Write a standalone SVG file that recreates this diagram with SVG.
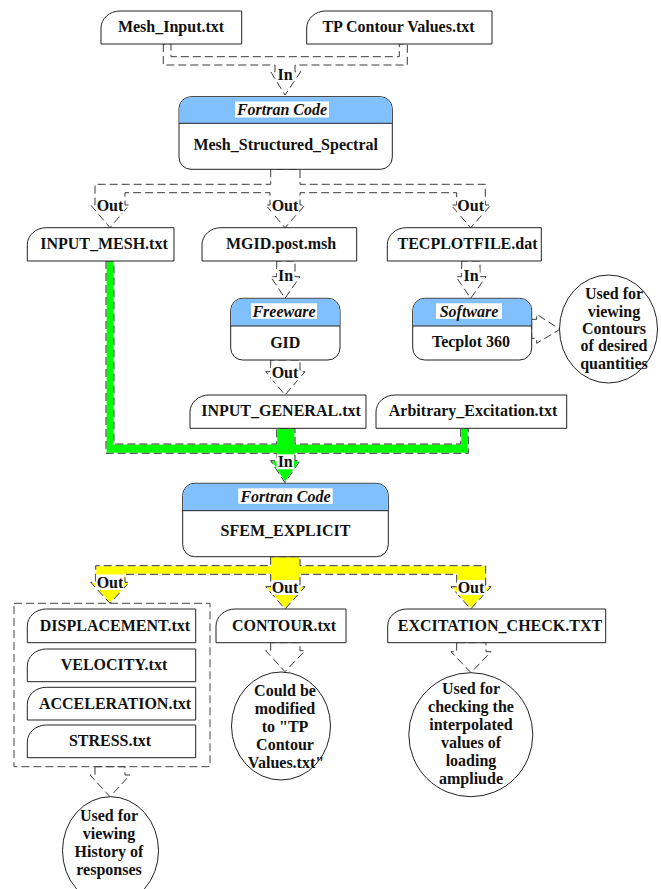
<svg xmlns="http://www.w3.org/2000/svg" xmlns:xlink="http://www.w3.org/1999/xlink" width="661" height="889" viewBox="0 0 661 889">
<style>
.box{fill:#fff;stroke:#222;stroke-width:1}
.hdr{fill:#80C0FF;stroke:none}
.t{font-family:"Liberation Serif","Times New Roman",serif;font-weight:bold;font-size:16px;fill:#111;text-anchor:middle}
.it{font-style:italic}
.conn{fill:#fff;stroke:#3a3a3a;stroke-width:1;stroke-dasharray:8 4;stroke-linejoin:miter}
.under{stroke:#fff;stroke-width:1.2}
.dash{fill:none;stroke:#333;stroke-width:1;stroke-dasharray:8 4}
.g{fill:#00FF00}
.y{fill:#FFFF00}
.bg{fill:#fff}
.cont{fill:none;stroke:#444;stroke-width:1;stroke-dasharray:8 4}
</style>
<defs>
<path id="greenPath" d="M106 261 V453.3 H276.7 V460.7 H270.7 L285 482.7 L300 460.7 H295 V453.3 H468.3 V428.3 H460.7 V444 H295 V428.3 H276.7 V444 H114 V261 Z"/>
<path id="yellowPath" d="M270.7 556.7 V565.7 H95.7 V582.3 H90.7 L110 603.3 L129.3 582.3 H125 V574.3 H270.7 V586.7 H265.7 L285 609 L305 586.7 H300 V574.3 H456.7 V586.7 H451 L470.7 609 L491 586.7 H485.7 V565.7 H300 V556.7 Z"/>
</defs>

<g id="connectors">
  <path class="conn" d="M163.3 44 V65 H275 V71.7 H270.7 L285 95 L300.7 71.7 H295 V65 H407.3 V44 H399.3 V56.7 H171 V44 Z"/>
  <path class="conn" d="M270.7 169.3 V184.3 H95 V205 H90.7 L110 227.7 L129.3 205 H125 V192.7 H270 V205 H265.7 L285 227.7 L305 205 H300 V192.7 H456.7 V205 H451 L470.7 227.7 L491 205 H485.3 V184.3 H300 V169.3 Z"/>
  <path class="conn" d="M276.7 261 V276.7 H270.7 L285 298.3 L300 276.7 H295 V261 Z"/>
  <path class="conn" d="M461.7 261 V276.7 H456 L470.7 298.3 L486 276.7 H480 V261 Z"/>
  <path class="conn" d="M531.7 319.3 H536.7 V314.3 L560 329.3 L536.7 343.3 V338.3 H531.7 Z"/>
  <path class="conn" d="M270.7 360 V371.7 H265.7 L285 395 L305 371.7 H300 V360 Z"/>
  <use xlink:href="#greenPath" class="g under"/>
  <use xlink:href="#greenPath" class="dash"/>
  <use xlink:href="#yellowPath" class="y under"/>
  <use xlink:href="#yellowPath" class="dash"/>
  <path class="conn" d="M270.7 642.7 V650.7 H265.7 L285 671.7 L305 650.7 H300 V642.7 Z"/>
  <path class="conn" d="M456.7 642.7 V651.7 H451 L471 672.7 L491 651.7 H486 V642.7 Z"/>
  <path class="conn" d="M95 766.7 V775 H90 L110 796.7 L130 775 H125 V766.7 Z"/>

  <rect class="bg" x="276.5" y="67" width="17" height="15"/>
  <text class="t" x="285" y="79.5">In</text>
  <rect class="bg" x="96" y="198" width="28" height="15"/>
  <text class="t" x="110" y="211">Out</text>
  <rect class="bg" x="271" y="198" width="28" height="15"/>
  <text class="t" x="285" y="211">Out</text>
  <rect class="bg" x="457" y="198" width="28" height="15"/>
  <text class="t" x="470.7" y="211">Out</text>
  <rect class="bg" x="277" y="268" width="17" height="15"/>
  <text class="t" x="285.5" y="280.5">In</text>
  <rect class="bg" x="462.5" y="268" width="17" height="15"/>
  <text class="t" x="471" y="280.5">In</text>
  <rect class="bg" x="271" y="365.5" width="28" height="15"/>
  <text class="t" x="285" y="378">Out</text>
  <rect class="bg" x="276.5" y="454.3" width="17.5" height="15"/>
  <text class="t" x="285.2" y="466.7">In</text>
  <rect class="bg" x="96" y="574.5" width="28" height="15.5"/>
  <text class="t" x="110" y="588">Out</text>
  <rect class="bg" x="271.5" y="580" width="27.5" height="15"/>
  <text class="t" x="285" y="593">Out</text>
  <rect class="bg" x="457" y="580" width="28" height="15"/>
  <text class="t" x="471" y="593">Out</text>
</g>

<g id="mesh_input">
  <path class="box" d="M101 44 V28 A19 17 0 0 1 120 11 H241.7 V44 Z"/>
  <text class="t" x="171" y="32">Mesh_Input.txt</text>
</g>
<g id="tp_contour">
  <path class="box" d="M306.7 44 V28 A19 17 0 0 1 325.7 11 H492 V44 Z"/>
  <text class="t" x="398.5" y="32">TP Contour Values.txt</text>
</g>

<g id="mesh_structured">
  <rect class="box" x="179" y="96.7" width="213.3" height="72.6" rx="12"/>
  <path class="hdr" d="M179.5 123.3 V108.7 A11.5 11.5 0 0 1 191 97.2 H380.3 A11.5 11.5 0 0 1 391.8 108.7 V123.3 Z"/>
  <path d="M179 123.3 H392.3" stroke="#222" stroke-width="1"/>
  <rect class="bg" x="235" y="101.5" width="94" height="16"/>
  <text class="t it" x="282" y="115">Fortran Code</text>
  <text class="t" x="285.7" y="149.5">Mesh_Structured_Spectral</text>
</g>

<g id="input_mesh">
  <path class="box" d="M27.3 261 V244.7 A19 17 0 0 1 46.3 227.7 H174 V261 Z"/>
  <text class="t" x="104" y="248.5">INPUT_MESH.txt</text>
</g>
<g id="mgid">
  <path class="box" d="M202 261 V244.7 A19 17 0 0 1 221 227.7 H356.7 V261 Z"/>
  <text class="t" x="281" y="248.5">MGID.post.msh</text>
</g>
<g id="tecplotfile">
  <path class="box" d="M387.3 261 V244.7 A19 17 0 0 1 406.3 227.7 H541.3 V261 Z"/>
  <text class="t" x="467.5" y="248.5">TECPLOTFILE.dat</text>
</g>

<g id="gid">
  <rect class="box" x="230.7" y="298.3" width="109.3" height="61.7" rx="12"/>
  <path class="hdr" d="M231.2 326 V310.3 A11.5 11.5 0 0 1 242.7 298.8 H328 A11.5 11.5 0 0 1 339.5 310.3 V326 Z"/>
  <path d="M230.7 326 H340" stroke="#222" stroke-width="1"/>
  <rect class="bg" x="251" y="303.3" width="66" height="15.5"/>
  <text class="t it" x="284" y="316.5">Freeware</text>
  <text class="t" x="285.3" y="347.5">GID</text>
</g>

<g id="tecplot360">
  <rect class="box" x="412.7" y="298.3" width="119" height="61.7" rx="12"/>
  <path class="hdr" d="M413.2 326 V310.3 A11.5 11.5 0 0 1 424.7 298.8 H519.7 A11.5 11.5 0 0 1 531.2 310.3 V326 Z"/>
  <path d="M412.7 326 H531.7" stroke="#222" stroke-width="1"/>
  <rect class="bg" x="436" y="303.3" width="66" height="15.5"/>
  <text class="t it" x="469" y="316.5">Software</text>
  <text class="t" x="471" y="347">Tecplot 360</text>
</g>

<g id="contours_note">
  <ellipse class="box" cx="608.5" cy="329" rx="49" ry="54"/>
  <text class="t" x="614" y="299">Used for<tspan x="614" y="316.5">viewing</tspan><tspan x="614" y="334">Contours</tspan><tspan x="614" y="351">of desired</tspan><tspan x="614" y="368.5">quantities</tspan></text>
</g>

<g id="input_general">
  <path class="box" d="M190 428.3 V412 A19 17 0 0 1 209 395 H366 V428.3 Z"/>
  <text class="t" x="281" y="416">INPUT_GENERAL.txt</text>
</g>
<g id="arbitrary_excitation">
  <path class="box" d="M376 428.3 V412 A19 17 0 0 1 395 395 H566.7 V428.3 Z"/>
  <text class="t" x="473" y="416">Arbitrary_Excitation.txt</text>
</g>

<g id="sfem_explicit">
  <rect class="box" x="182.7" y="483.3" width="205.6" height="73.4" rx="12"/>
  <path class="hdr" d="M183.2 510.7 V495.3 A11.5 11.5 0 0 1 194.7 483.8 H376.3 A11.5 11.5 0 0 1 387.8 495.3 V510.7 Z"/>
  <path d="M182.7 510.7 H388.3" stroke="#222" stroke-width="1"/>
  <rect class="bg" x="238.3" y="488.3" width="94.4" height="15.5"/>
  <text class="t it" x="285.5" y="501.5">Fortran Code</text>
  <text class="t" x="285.5" y="536">SFEM_EXPLICIT</text>
</g>

<g id="history_group">
  <rect class="cont" x="14" y="603.3" width="196" height="163.4"/>
  <g id="displacement">
    <path class="box" d="M27.3 642.7 V626 A19 17 0 0 1 46.3 609 H195.7 V642.7 Z"/>
    <text class="t" x="115" y="630.5">DISPLACEMENT.txt</text>
  </g>
  <g id="velocity">
    <path class="box" d="M27.3 681.7 V666 A19 17 0 0 1 46.3 649 H195.7 V681.7 Z"/>
    <text class="t" x="114" y="670">VELOCITY.txt</text>
  </g>
  <g id="acceleration">
    <path class="box" d="M27.3 720 V704.3 A19 17 0 0 1 46.3 687.3 H195.7 V720 Z"/>
    <text class="t" x="115" y="708.5">ACCELERATION.txt</text>
  </g>
  <g id="stress">
    <path class="box" d="M27.3 757.7 V742 A19 17 0 0 1 46.3 725 H195.7 V757.7 Z"/>
    <text class="t" x="110" y="746">STRESS.txt</text>
  </g>
</g>

<g id="contour_txt">
  <path class="box" d="M216 642.7 V626 A19 17 0 0 1 235 609 H346 V642.7 Z"/>
  <text class="t" x="284" y="630.5">CONTOUR.txt</text>
</g>
<g id="excitation_check">
  <path class="box" d="M387.7 642.7 V626 A19 17 0 0 1 406.7 609 H605.7 V642.7 Z"/>
  <text class="t" x="500" y="630.5">EXCITATION_CHECK.TXT</text>
</g>

<g id="contour_note">
  <ellipse class="box" cx="281" cy="726" rx="49.5" ry="54"/>
  <text class="t" x="285" y="695.5">Could be<tspan x="285" y="713.5">modified</tspan><tspan x="285" y="731.5">to "TP</tspan><tspan x="285" y="749.5">Contour</tspan><tspan x="286" y="767.5">Values.txt"</tspan></text>
</g>

<g id="excitation_note">
  <circle class="box" cx="470.8" cy="734.7" r="62"/>
  <text class="t" x="471" y="694">Used for<tspan x="471" y="712">checking the</tspan><tspan x="471" y="730">interpolated</tspan><tspan x="471" y="748">values of</tspan><tspan x="471" y="766">loading</tspan><tspan x="471" y="784">ampliude</tspan></text>
</g>

<g id="history_note">
  <ellipse class="box" cx="110.5" cy="850.7" rx="48" ry="54"/>
  <text class="t" x="109" y="821">Used for<tspan x="109" y="839">viewing</tspan><tspan x="109" y="857">History of</tspan><tspan x="109" y="875">responses</tspan></text>
</g>
</svg>
